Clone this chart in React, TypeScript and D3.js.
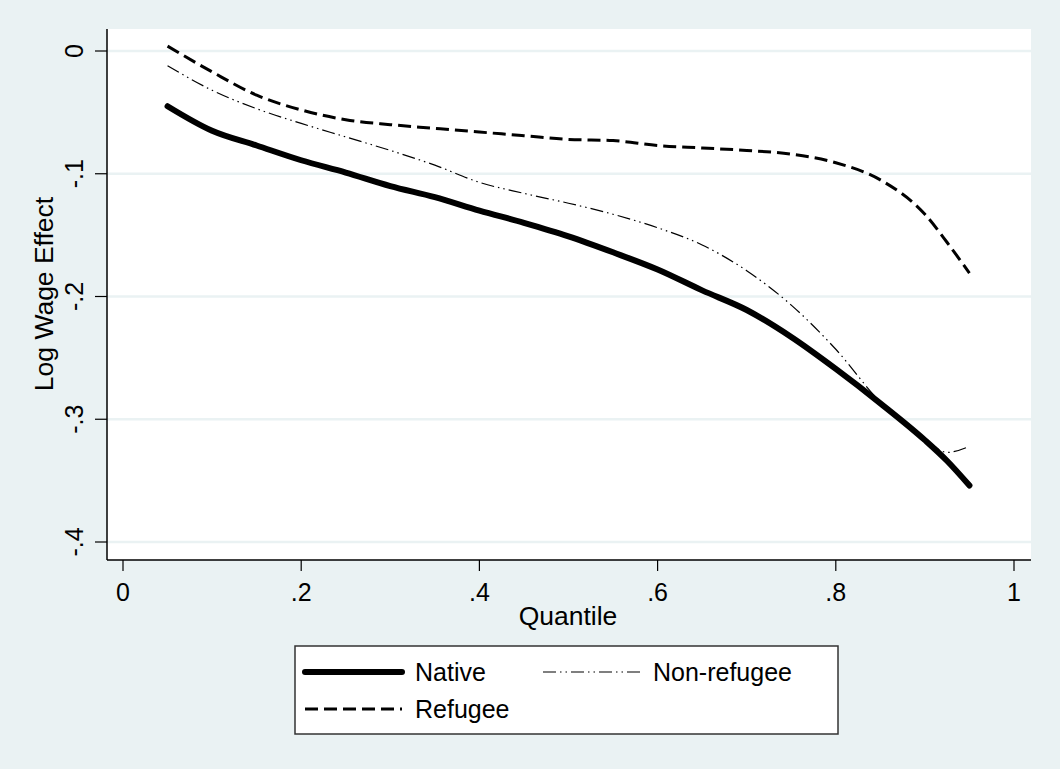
import React, { useEffect, useRef } from "react";
import * as d3 from "d3";

// quantile grid the three curves were read at
const quantiles = [0.05, 0.1, 0.15, 0.2, 0.25, 0.3, 0.35, 0.4, 0.45, 0.5, 0.55, 0.6, 0.65, 0.7, 0.75, 0.8, 0.85, 0.9, 0.925, 0.95];
const native = [-0.045, -0.065, -0.077, -0.089, -0.099, -0.110, -0.119, -0.130, -0.140, -0.151, -0.164, -0.178, -0.195, -0.211, -0.233, -0.259, -0.287, -0.317, -0.334, -0.354];
const nonRefugee = [-0.012, -0.032, -0.047, -0.059, -0.070, -0.081, -0.093, -0.107, -0.116, -0.124, -0.133, -0.144, -0.158, -0.179, -0.207, -0.243, -0.286, -0.316, -0.327, -0.322];
const refugee = [0.004, -0.017, -0.036, -0.048, -0.056, -0.060, -0.063, -0.066, -0.069, -0.072, -0.073, -0.077, -0.079, -0.081, -0.084, -0.091, -0.105, -0.133, -0.156, -0.181];

const xTicks = [0, 0.2, 0.4, 0.6, 0.8, 1];
const xTickLabels = ["0", ".2", ".4", ".6", ".8", "1"];
const yTicks = [0, -0.1, -0.2, -0.3, -0.4];
const yTickLabels = ["0", "-.1", "-.2", "-.3", "-.4"];

const seriesNames = ["Native", "Non-refugee", "Refugee"];

const BG = "#eaf2f3";
const FONT = "'Liberation Sans', Arial, Helvetica, sans-serif";

export default function App() {
  const ref = useRef<SVGSVGElement>(null);

  useEffect(() => {
    const width = 1060, height = 769;
    const plot = { left: 107, right: 1031, top: 29, bottom: 560 };

    const svg = d3.select(ref.current);
    svg.selectAll("*").remove();

    svg.append("rect").attr("width", width).attr("height", height).attr("fill", BG);
    svg.append("rect")
      .attr("x", plot.left).attr("y", plot.top)
      .attr("width", plot.right - plot.left).attr("height", plot.bottom - plot.top)
      .attr("fill", "#fff");

    const x = d3.scaleLinear().domain([0, 1]).range([123, 1014]);
    const y = d3.scaleLinear().domain([-0.4, 0]).range([542, 51]);

    // grid lines
    svg.append("g").selectAll("line")
      .data(yTicks)
      .enter().append("line")
      .attr("x1", plot.left).attr("x2", plot.right)
      .attr("y1", d => y(d)).attr("y2", d => y(d))
      .attr("stroke", BG).attr("stroke-width", 2.5);

    // y axis
    const yAxis = svg.append("g");
    yAxis.append("line")
      .attr("x1", plot.left).attr("x2", plot.left)
      .attr("y1", plot.top).attr("y2", plot.bottom)
      .attr("stroke", "#000").attr("stroke-width", 1.5);
    yAxis.selectAll(".tick")
      .data(yTicks)
      .enter().append("line")
      .attr("x1", plot.left - 12).attr("x2", plot.left)
      .attr("y1", d => y(d)).attr("y2", d => y(d))
      .attr("stroke", "#000").attr("stroke-width", 1.2);
    yAxis.selectAll("text")
      .data(yTicks)
      .enter().append("text")
      .attr("transform", d => `translate(83,${y(d)}) rotate(-90)`)
      .attr("text-anchor", "middle")
      .attr("font-family", FONT).attr("font-size", 25)
      .text((d, i) => yTickLabels[i]);
    svg.append("text")
      .attr("transform", `translate(53,294) rotate(-90) scale(1.06,1)`)
      .attr("text-anchor", "middle")
      .attr("font-family", FONT).attr("font-size", 25)
      .text("Log Wage Effect");

    // x axis
    const xAxis = svg.append("g");
    xAxis.append("line")
      .attr("x1", plot.left).attr("x2", plot.right)
      .attr("y1", plot.bottom).attr("y2", plot.bottom)
      .attr("stroke", "#000").attr("stroke-width", 1.5);
    xAxis.selectAll(".tick")
      .data(xTicks)
      .enter().append("line")
      .attr("x1", d => x(d)).attr("x2", d => x(d))
      .attr("y1", plot.bottom).attr("y2", plot.bottom + 11)
      .attr("stroke", "#000").attr("stroke-width", 1.2);
    xAxis.selectAll("text")
      .data(xTicks)
      .enter().append("text")
      .attr("x", d => x(d)).attr("y", 601)
      .attr("text-anchor", "middle")
      .attr("font-family", FONT).attr("font-size", 25)
      .text((d, i) => xTickLabels[i]);
    svg.append("text")
      .attr("transform", `translate(568,625) scale(1.06,1)`)
      .attr("text-anchor", "middle")
      .attr("font-family", FONT).attr("font-size", 25)
      .text("Quantile");

    const line = d3.line<number>()
      .x((d, i) => x(quantiles[i]))
      .y(d => y(d))
      .curve(d3.curveMonotoneX);

    const styles = [
      { width: 6, dash: null },
      { width: 1.2, dash: "13 4 1.5 4 1.5 4" },
      { width: 3, dash: "13 6" },
    ];
    const allSeries = [native, nonRefugee, refugee];

    // draw dashed first so the thick native line sits on top
    [2, 1, 0].forEach(k => {
      svg.append("path")
        .datum(allSeries[k])
        .attr("d", line)
        .attr("fill", "none")
        .attr("stroke", "#000")
        .attr("stroke-width", styles[k].width)
        .attr("stroke-linecap", k === 0 ? "round" : "butt")
        .attr("stroke-linejoin", "round")
        .attr("stroke-dasharray", styles[k].dash);
    });

    // legend
    const legend = svg.append("g");
    legend.append("rect")
      .attr("x", 295).attr("y", 646).attr("width", 543).attr("height", 88)
      .attr("fill", "#fff").attr("stroke", "#333").attr("stroke-width", 1.5);
    const slots = [
      { lx: 305, ly: 672, tx: 415 },
      { lx: 543, ly: 672, tx: 653 },
      { lx: 305, ly: 709, tx: 415 },
    ];
    slots.forEach((s, k) => {
      legend.append("line")
        .attr("x1", s.lx).attr("x2", s.lx + 97)
        .attr("y1", s.ly).attr("y2", s.ly)
        .attr("stroke", "#000")
        .attr("stroke-width", styles[k].width)
        .attr("stroke-linecap", k === 0 ? "round" : "butt")
        .attr("stroke-dasharray", styles[k].dash);
      legend.append("text")
        .attr("x", s.tx).attr("y", s.ly + 9)
        .attr("font-family", FONT).attr("font-size", 25)
        .text(seriesNames[k]);
    });
  }, []);

  return (
    <svg
      ref={ref}
      width={1060}
      height={769}
      style={{ position: "absolute", left: 0, top: 0, display: "block" }}
    />
  );
}
